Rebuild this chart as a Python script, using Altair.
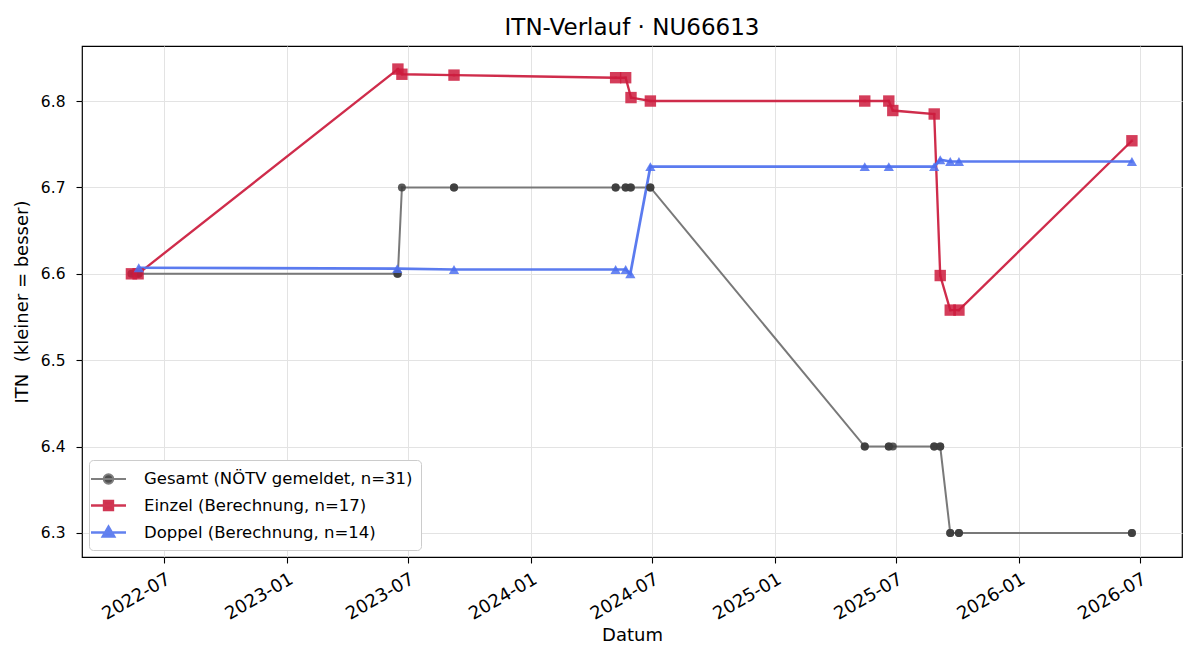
import altair as alt
import pandas as pd

# Series labels
gesamt_label = "Gesamt (NÖTV gemeldet, n=31)"
einzel_label = "Einzel (Berechnung, n=17)"
doppel_label = "Doppel (Berechnung, n=14)"

# Reported overall ITN
gesamt_dates = [
    "2022-05-13", "2022-05-23", "2022-05-24", "2023-06-15", "2023-06-16",
    "2023-06-22", "2023-09-08", "2023-09-08", "2024-05-07", "2024-05-07",
    "2024-05-22", "2024-05-22", "2024-05-29", "2024-05-30", "2024-06-28",
    "2024-06-28", "2025-05-15", "2025-05-15", "2025-06-20", "2025-06-20",
    "2025-06-26", "2025-08-27", "2025-08-27", "2025-09-05", "2025-09-05",
    "2025-09-20", "2025-09-20", "2025-10-03", "2025-10-03", "2026-06-19",
    "2026-06-19",
]
gesamt_values = [
    6.6, 6.6, 6.6, 6.6, 6.6,
    6.7, 6.7, 6.7, 6.7, 6.7,
    6.7, 6.7, 6.7, 6.7, 6.7,
    6.7, 6.4, 6.4, 6.4, 6.4,
    6.4, 6.4, 6.4, 6.4, 6.4,
    6.3, 6.3, 6.3, 6.3, 6.3,
    6.3,
]

# Computed singles ITN
einzel_dates = [
    "2022-05-13", "2022-05-23", "2023-06-16", "2023-06-22", "2023-09-08",
    "2024-05-07", "2024-05-22", "2024-05-30", "2024-06-28", "2025-05-15",
    "2025-06-20", "2025-06-26", "2025-08-27", "2025-09-05", "2025-09-20",
    "2025-10-03", "2026-06-19",
]
einzel_values = [
    6.600, 6.600, 6.837, 6.831, 6.830,
    6.827, 6.827, 6.804, 6.800, 6.800,
    6.800, 6.789, 6.785, 6.598, 6.558,
    6.558, 6.754,
]

# Computed doubles ITN
doppel_dates = [
    "2022-05-24", "2023-06-15", "2023-09-08", "2024-05-07", "2024-05-22",
    "2024-05-29", "2024-06-28", "2025-05-15", "2025-06-20", "2025-08-27",
    "2025-09-05", "2025-09-20", "2025-10-03", "2026-06-19",
]
doppel_values = [
    6.607, 6.606, 6.605, 6.605, 6.605,
    6.600, 6.724, 6.724, 6.724, 6.724,
    6.732, 6.730, 6.730, 6.730,
]

series_order = [gesamt_label, einzel_label, doppel_label]
line_colors = ["#727272", "#cc2141", "#5274ee"]
marker_colors = ["#3d3d3d", "#cc1b3d", "#4d70f0"]
# legend glyphs: a short line with the series marker in the middle
legend_shapes = [
    "M-1.75,0H1.75M0.48,0A0.48,0.48 0 1 1 -0.48,0A0.48,0.48 0 1 1 0.48,0Z",
    "M-1.75,0H1.75M-0.45,-0.45H0.45V0.45H-0.45Z",
    "M-1.75,0H1.75M0,-0.55L0.55,0.4H-0.55Z",
]

frames = []
for label, dates, values in [
    (gesamt_label, gesamt_dates, gesamt_values),
    (einzel_label, einzel_dates, einzel_values),
    (doppel_label, doppel_dates, doppel_values),
]:
    frames.append(pd.DataFrame({"Datum": dates, "ITN": values, "Serie": label}))
df = pd.concat(frames, ignore_index=True)

font = "DejaVu Sans"

x_enc = alt.X(
    "Datum:T",
    title="Datum",
    scale=alt.Scale(
        type="utc",
        domain=[
            alt.DateTime(year=2022, month=2, date=28, utc=True),
            alt.DateTime(year=2026, month=9, date=2, utc=True),
        ],
    ),
    axis=alt.Axis(
        values=[
            alt.DateTime(year=y, month=m, date=1, utc=True)
            for y, m in [(2022, 7), (2023, 1), (2023, 7), (2024, 1), (2024, 7),
                         (2025, 1), (2025, 7), (2026, 1), (2026, 7)]
        ],
        labelExpr="utcFormat(datum.value, '%Y-%m')",
        labelAngle=-30,
        labelAlign="right",
        labelBaseline="top",
    ),
)
y_enc = alt.Y(
    "ITN:Q",
    title="ITN\u00a0 (kleiner = besser)",
    scale=alt.Scale(domain=[6.2722, 6.8637], nice=False, zero=False),
    axis=alt.Axis(values=[6.3, 6.4, 6.5, 6.6, 6.7, 6.8], format=".1f"),
)

legend_spec = alt.Legend(
    title=None,
    orient="bottom-left",
    offset=7,
    symbolSize=400,
    symbolStrokeWidth=2.4,
    symbolOpacity=0.9,
    labelFontSize=16.5,
    labelFont=font,
    labelColor="#000000",
    labelLimit=400,
    labelOffset=24,
    rowPadding=6,
    padding=8,
    fillColor="#ffffff",
    strokeColor="#cccccc",
    cornerRadius=4,
)

# Tiny key points sitting beneath the real markers; they carry the legend
key_layer = alt.Chart(df).mark_point(filled=True, size=2).encode(
    x=x_enc,
    y=y_enc,
    fill=alt.Fill("Serie:N", scale=alt.Scale(domain=series_order, range=marker_colors),
                  legend=legend_spec),
    stroke=alt.Stroke("Serie:N", scale=alt.Scale(domain=series_order, range=line_colors),
                      legend=legend_spec),
    shape=alt.Shape("Serie:N", scale=alt.Scale(domain=series_order, range=legend_shapes),
                    legend=legend_spec),
)

lines = alt.Chart(df).mark_line(opacity=0.95).encode(
    x=x_enc,
    y=y_enc,
    color=alt.Color("Serie:N", scale=alt.Scale(domain=series_order, range=line_colors),
                    legend=None),
    strokeWidth=alt.StrokeWidth(
        "Serie:N",
        scale=alt.Scale(domain=series_order, range=[2.0, 2.7, 2.7]),
        legend=None,
    ),
    order=alt.Order("Datum:T"),
)

marker_layers = []
for label, shape, size, mcol in [
    (gesamt_label, "circle", 64, marker_colors[0]),
    (einzel_label, "square", 130, marker_colors[1]),
    (doppel_label, "triangle-up", 105, marker_colors[2]),
]:
    marker_layers.append(
        alt.Chart(df)
        .transform_filter(alt.datum.Serie == label)
        .mark_point(shape=shape, size=size, filled=True, opacity=0.85, color=mcol)
        .encode(x=x_enc, y=y_enc)
    )

chart = (
    alt.layer(key_layer, lines, *marker_layers)
    .properties(
        width=1100,
        height=511,
        title=alt.TitleParams(
            "ITN-Verlauf · NU66613",
            font=font,
            fontSize=23,
            fontWeight="normal",
            color="#000000",
            frame="group",
            offset=6,
        ),
        autosize=alt.AutoSizeParams(type="none"),
        padding={"left": 82, "top": 46, "right": 18, "bottom": 103},
    )
    .configure_view(stroke="#000000", strokeWidth=1.2)
    .configure_axis(
        labelFont=font,
        titleFont=font,
        labelFontSize=15.5,
        titleFontSize=18,
        titleFontWeight="normal",
        labelColor="#000000",
        titleColor="#000000",
        gridColor="#e3e3e3",
        gridWidth=1,
        domain=False,
        tickColor="#000000",
        tickSize=6,
        tickWidth=1.1,
        labelPadding=6,
    )
    .configure_axisX(titlePadding=3, labelPadding=7, labelFontSize=18)
    .configure_axisY(titlePadding=9, labelPadding=11)
)

chart.save("out.html", embed_options={"renderer": "svg", "actions": False})
